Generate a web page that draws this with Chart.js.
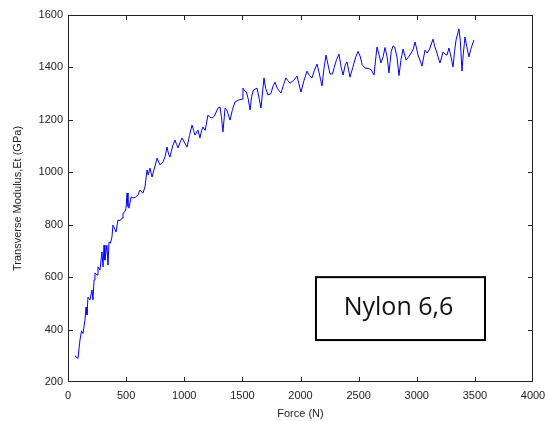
<!DOCTYPE html>
<html>
<head>
<meta charset="utf-8">
<script src="https://cdn.jsdelivr.net/npm/chart.js@4.4.1/dist/chart.umd.min.js"></script>
<style>
  html, body { margin: 0; padding: 0; background: #fff; }
  #wrap { width: 546px; height: 421px; }
</style>
</head>
<body>
<div id="wrap"><canvas id="modulus"></canvas></div>
<script>
// force (N) and transverse modulus (GPa)
const forceN = [
  60, 86, 103, 116, 129, 146, 155, 163, 172, 189, 206, 215, 224, 232, 250, 258, 275, 292, 301, 310,
  318, 335, 344, 353, 365, 378, 387, 400, 413, 430, 447, 465, 473, 490, 499, 508, 516, 525, 542, 559,
  580, 602, 619, 632, 645, 662, 680, 690, 705, 723, 740, 766, 791, 817, 835, 852, 865, 877, 900, 920,
  935, 946, 965, 981, 1000, 1024, 1045, 1067, 1080, 1092, 1118, 1135, 1150, 1161, 1180, 1204, 1221, 1239, 1260, 1290,
  1308, 1320, 1333, 1351, 1365, 1394, 1415, 1437, 1465, 1497, 1505, 1520, 1535, 1550, 1566, 1580, 1595, 1626, 1645, 1660,
  1686, 1700, 1720, 1745, 1765, 1781, 1800, 1832, 1855, 1875, 1890, 1910, 1940, 1970, 1985, 2004, 2030, 2056, 2075, 2099,
  2120, 2142, 2160, 2185, 2200, 2219, 2237, 2254, 2275, 2290, 2310, 2331, 2350, 2366, 2385, 2400, 2426, 2450, 2475, 2495,
  2515, 2530, 2555, 2590, 2610, 2632, 2658, 2675, 2692, 2710, 2727, 2745, 2761, 2780, 2796, 2810, 2830, 2847, 2865, 2882,
  2908, 2930, 2951, 2970, 2985, 3000, 3011, 3030, 3045, 3060, 3071, 3090, 3110, 3140, 3155, 3174, 3190, 3200, 3215, 3226,
  3245, 3260, 3277, 3295, 3312, 3325, 3338, 3363, 3375, 3389, 3400, 3415, 3430, 3449, 3465, 3492
];
const modulusGPa = [
  300, 290, 360, 395, 385, 437, 486, 456, 524, 513, 551, 513, 589, 616, 608, 639, 627, 696, 639, 722,
  665, 722, 646, 734, 730, 753, 799, 785, 772, 818, 815, 825, 844, 850, 863, 921, 870, 863, 906, 902,
  905, 913, 932, 925, 921, 944, 1009, 990, 1016, 982, 1010, 1054, 1028, 1039, 1060, 1096, 1070, 1058, 1100, 1123,
  1105, 1093, 1115, 1131, 1115, 1096, 1140, 1180, 1160, 1142, 1161, 1131, 1160, 1173, 1160, 1218, 1210, 1207, 1215, 1245,
  1249, 1210, 1154, 1245, 1240, 1199, 1240, 1268, 1275, 1279, 1321, 1310, 1306, 1280, 1238, 1290, 1314, 1321, 1280, 1245,
  1360, 1320, 1295, 1300, 1330, 1344, 1320, 1302, 1335, 1360, 1350, 1340, 1350, 1367, 1340, 1306, 1350, 1386, 1370, 1360,
  1390, 1413, 1380, 1329, 1390, 1447, 1410, 1375, 1375, 1400, 1430, 1451, 1400, 1371, 1410, 1421, 1363, 1400, 1440, 1461,
  1440, 1410, 1398, 1395, 1390, 1371, 1478, 1450, 1417, 1440, 1476, 1440, 1379, 1460, 1482, 1478, 1440, 1369, 1430, 1470,
  1428, 1440, 1455, 1470, 1497, 1470, 1447, 1425, 1405, 1440, 1466, 1455, 1470, 1508, 1480, 1455, 1430, 1417, 1440, 1459,
  1450, 1447, 1474, 1440, 1402, 1460, 1505, 1547, 1500, 1386, 1450, 1516, 1480, 1440, 1470, 1505
];
const xTicks = [0, 500, 1000, 1500, 2000, 2500, 3000, 3500, 4000];
const yTicks = [200, 400, 600, 800, 1000, 1200, 1400, 1600];

// label box, in data units: [x1, x2] and [yTop, yBottom]
const boxLabel = "Nylon 6,6";
const boxX = [2133, 3587];
const boxY = [600, 360];

const points = forceN.map((f, i) => ({ x: f, y: modulusGPa[i] }));

// matlab style frame: box round the plot and ticks pointing inward
const framePlugin = {
  id: "frame",
  afterDatasetsDraw(chart) {
    const { ctx, chartArea: a, scales } = chart;
    const x = scales.x, y = scales.y;
    ctx.save();
    ctx.strokeStyle = "#222";
    ctx.lineWidth = 1;
    ctx.strokeRect(Math.round(a.left) + 0.5, Math.round(a.top) + 0.5,
      Math.round(a.width) - 1, Math.round(a.height) - 1);
    ctx.beginPath();
    xTicks.slice(1, -1).forEach(v => {
      const px = Math.round(x.getPixelForValue(v)) + 0.5;
      ctx.moveTo(px, a.bottom); ctx.lineTo(px, a.bottom - 5);
      ctx.moveTo(px, a.top); ctx.lineTo(px, a.top + 5);
    });
    yTicks.slice(1, -1).forEach(v => {
      const py = Math.round(y.getPixelForValue(v)) + 0.5;
      ctx.moveTo(a.left, py); ctx.lineTo(a.left + 5, py);
      ctx.moveTo(a.right, py); ctx.lineTo(a.right - 5, py);
    });
    ctx.stroke();

    // text box
    const x1 = x.getPixelForValue(boxX[0]), x2 = x.getPixelForValue(boxX[1]);
    const y1 = y.getPixelForValue(boxY[0]), y2 = y.getPixelForValue(boxY[1]);
    ctx.fillStyle = "#fff";
    ctx.fillRect(x1, y1, x2 - x1, y2 - y1);
    ctx.strokeStyle = "#000";
    ctx.lineWidth = 2;
    ctx.strokeRect(x1, y1, x2 - x1, y2 - y1);
    ctx.fillStyle = "#111";
    ctx.font = "25px 'Open Sans', sans-serif";
    ctx.textAlign = "center";
    ctx.textBaseline = "middle";
    ctx.fillText(boxLabel, (x1 + x2) / 2 - 2, (y1 + y2) / 2 - 1);
    ctx.restore();
  }
};

const tickFont = { family: "'Liberation Sans', Arial, sans-serif", size: 11 };

new Chart(document.getElementById("modulus"), {
  type: "scatter",
  data: {
    datasets: [{
      data: points,
      showLine: true,
      borderColor: "#0000ff",
      borderWidth: 1,
      pointRadius: 0,
      tension: 0
    }]
  },
  options: {
    responsive: true,
    maintainAspectRatio: false,
    animation: false,
    layout: { padding: { left: 11, top: 15, right: 13, bottom: 0 } },
    plugins: { legend: { display: false }, tooltip: { enabled: false } },
    scales: {
      x: {
        type: "linear",
        min: 0,
        max: 4000,
        afterBuildTicks: s => { s.ticks = xTicks.map(v => ({ value: v })); },
        afterFit: s => { s.height = 39; s.paddingLeft = 0; s.paddingRight = 0; },
        grid: { display: false, drawTicks: false },
        border: { display: false },
        ticks: { color: "#222", font: tickFont, padding: 7, maxRotation: 0, callback: v => String(v) },
        title: { display: true, text: "Force (N)", color: "#222", font: tickFont, padding: { top: 3, bottom: 0 } }
      },
      y: {
        min: 200,
        max: 1600,
        afterBuildTicks: s => { s.ticks = yTicks.map(v => ({ value: v })); },
        afterFit: s => { s.width = 57; s.paddingTop = 0; s.paddingBottom = 0; },
        grid: { display: false, drawTicks: false },
        border: { display: false },
        ticks: { color: "#222", font: tickFont, padding: 5, callback: v => String(v) },
        title: { display: true, text: "Transverse Modulus,Et (GPa)", color: "#222", font: tickFont, padding: { top: 0, bottom: 4 } }
      }
    }
  },
  plugins: [framePlugin]
});
</script>
</body>
</html>
